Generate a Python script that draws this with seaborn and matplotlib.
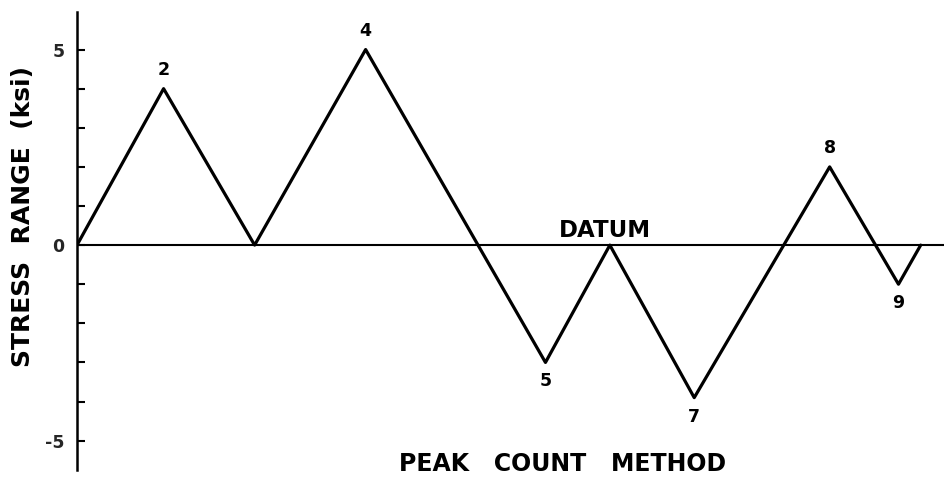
import matplotlib
matplotlib.use("Agg")
import matplotlib.pyplot as plt
import seaborn as sns
import pandas as pd

# Stress history reversals (time in arbitrary units, stress in ksi)
time = [0.0, 3.9, 8.0, 13.0, 21.1, 24.0, 27.8, 33.9, 37.0, 38.0]
stress = [0, 4, 0, 5, -3, 0, -3.9, 2, -1, 0]

# Numbered reversal points: index into the history, label, label side
peak_index = [1, 3, 4, 6, 7, 8]
peak_label = ["2", "4", "5", "7", "8", "9"]
peak_side = [1, 1, -1, -1, 1, -1]

ytick_values = [-5, -4, -3, -2, -1, 0, 1, 2, 3, 4, 5]
ytick_labels = ["-5", "", "", "", "", "0", "", "", "", "", "5"]

sns.set_theme(style="white")
plt.rcParams["font.family"] = ["DejaVu Sans"]

df = pd.DataFrame({"time": time, "stress": stress})

W, H = 944, 484
fig = plt.figure(figsize=(W / 100, H / 100), dpi=100)
ax = fig.add_axes([77 / W, 14 / H, 1 - 77 / W, 458 / H])

ax.axhline(0, color="black", lw=1.5, zorder=1)
sns.lineplot(data=df, x="time", y="stress", color="black", lw=2.3,
             estimator=None, sort=False, ax=ax, zorder=2)

ax.set_xlim(0, 39.05)
ax.set_ylim(-5.75, 5.96)

for spine in ["top", "right", "bottom"]:
    ax.spines[spine].set_visible(False)
ax.spines["left"].set_color("black")
ax.spines["left"].set_linewidth(1.8)

ax.set_xticks([])
ax.set_yticks(ytick_values)
ax.set_yticklabels(ytick_labels)
ax.tick_params(axis="y", direction="in", length=6, width=1.5, color="black",
               pad=9, labelsize=12.5, left=True)
for lab in ax.get_yticklabels():
    lab.set_fontweight("bold")
ax.set_xlabel("")
ax.set_ylabel("")

for i, lab, side in zip(peak_index, peak_label, peak_side):
    ax.annotate(lab, (time[i], stress[i]), xytext=(0, 19 * side),
                textcoords="offset pixels", ha="center", va="center",
                fontsize=12.5, fontweight="bold", color="black")

# Label for the zero-stress reference line
ax.annotate("DATUM", (23.8, 0), xytext=(0, 8), textcoords="offset pixels",
            ha="center", va="baseline", fontsize=16.5, fontweight="bold",
            color="black")

fig.text(563 / W, 1 - 464 / H, "PEAK   COUNT   METHOD", ha="center", va="center",
         fontsize=17, fontweight="bold", color="black")
fig.text(23 / W, 1 - 216 / H, "STRESS  RANGE  (ksi)", rotation=90,
         ha="center", va="center", fontsize=18, fontweight="bold", color="black")

fig.savefig("out.png", dpi=100)
